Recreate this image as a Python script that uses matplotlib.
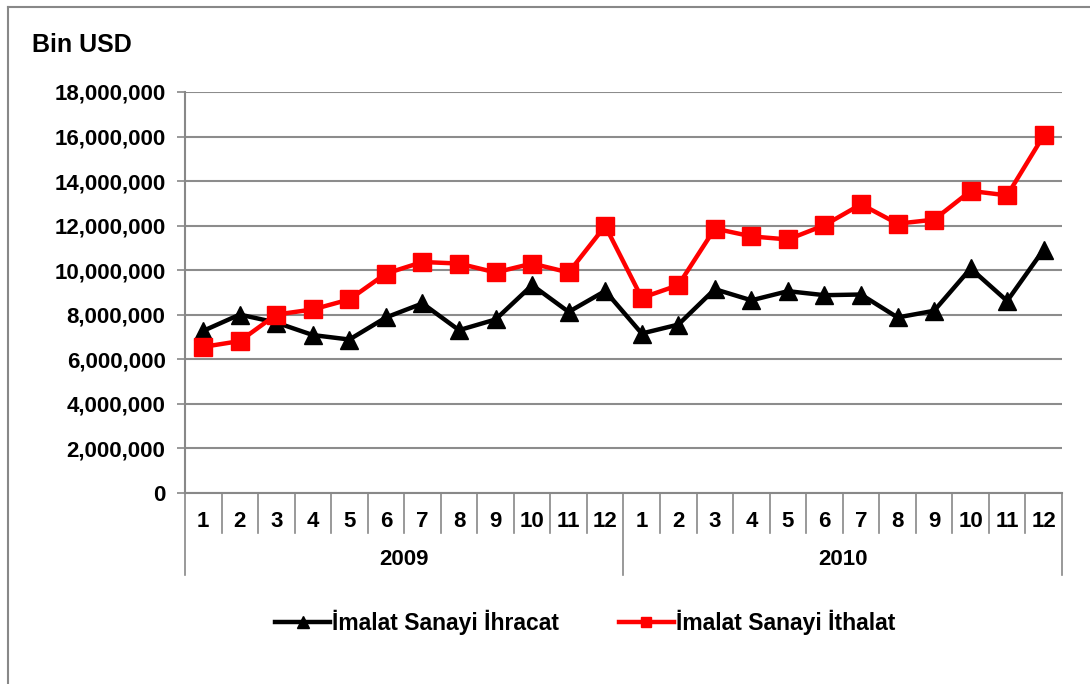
import matplotlib
matplotlib.use('Agg')
import matplotlib.pyplot as plt
from matplotlib.lines import Line2D
from matplotlib.ticker import FuncFormatter

plt.rcParams['font.family'] = ['Liberation Sans', 'DejaVu Sans']

years = ['2009', '2010']
months = [str(m) for m in range(1, 13)]

# million USD
ihracat = [7.28, 8.01, 7.65, 7.09, 6.89, 7.88, 8.51, 7.31, 7.79, 9.33, 8.13, 9.07,
           7.16, 7.56, 9.15, 8.65, 9.06, 8.88, 8.91, 7.88, 8.18, 10.08, 8.62, 10.93]
ithalat = [6.56, 6.82, 8.01, 8.24, 8.69, 9.85, 10.37, 10.30, 9.90, 10.30, 9.90, 11.99,
           8.76, 9.33, 11.87, 11.52, 11.38, 12.02, 12.96, 12.09, 12.27, 13.56, 13.36, 16.05]
ihracat = [v * 1e6 for v in ihracat]
ithalat = [v * 1e6 for v in ithalat]

fig = plt.figure(figsize=(10.9, 6.84), dpi=100)
ax = fig.add_axes([0.1697, 0.2792, 0.8046, 0.5863])

x = list(range(len(ihracat)))
ax.plot(x, ihracat, color='black', lw=3.2, marker='^', ms=13.5, label='İmalat Sanayi İhracat')
ax.plot(x, ithalat, color='#ff0000', lw=3.2, marker='s', ms=13, label='İmalat Sanayi İthalat')

ax.set_xlim(-0.5, len(x) - 0.5)
ax.set_ylim(0, 18e6)
ax.set_yticks(range(0, 18000001, 2000000))
ax.yaxis.set_major_formatter(FuncFormatter(lambda v, p: f'{int(v):,}'))
ax.tick_params(axis='y', length=6, width=1.2, color='#888888', pad=8, labelsize=16)
for lab in ax.get_yticklabels():
    lab.set_fontweight('bold')
ax.set_xticks([])
ax.grid(axis='y', color='#8c8c8c', lw=1.5)
ax.set_axisbelow(True)
for s in ['top', 'right']:
    ax.spines[s].set_visible(False)
for s in ['left', 'bottom']:
    ax.spines[s].set_color('#888888')
    ax.spines[s].set_linewidth(1.5)

# two-level category axis
tr = ax.get_xaxis_transform()
n = len(x)
for i in range(n + 1):
    bottom = -0.2045 if i % 12 == 0 else -0.0998
    ax.plot([i - 0.5, i - 0.5], [0, bottom], transform=tr, color='#888888', lw=1.2, clip_on=False)
for i in range(n):
    ax.text(i, -0.0698, months[i % 12], transform=tr, ha='center', va='center',
            fontsize=16, fontweight='bold')
for k, yr in enumerate(years):
    ax.text(k * 12 + 5.5, -0.167, yr, transform=tr, ha='center', va='center',
            fontsize=16, fontweight='bold')

fig.text(0.029, 0.934, 'Bin USD', fontsize=18, fontweight='bold', va='center', ha='left')

fig.legend(loc='center', bbox_to_anchor=(0.537, 0.09), ncol=2, frameon=False,
           prop={'weight': 'bold', 'size': 16.5},
           markerscale=0.6, handlelength=2.4, handletextpad=0.1, columnspacing=2.6)

# chart-area border (only top and left visible in the crop)
fig.add_artist(Line2D([8 / 1090, 1.0], [1 - 7 / 684, 1 - 7 / 684], transform=fig.transFigure,
                      color='#888888', lw=1.5))
fig.add_artist(Line2D([8 / 1090, 8 / 1090], [0, 1 - 7 / 684], transform=fig.transFigure,
                      color='#888888', lw=1.5))

fig.savefig('out.png', dpi=100)
